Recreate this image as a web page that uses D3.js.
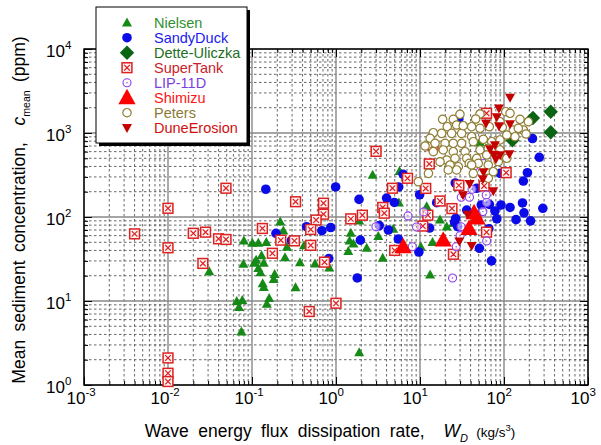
<!DOCTYPE html>
<html><head><meta charset="utf-8">
<script src="https://cdn.jsdelivr.net/npm/d3@7"></script>
<style>body{margin:0;background:#fff} svg{display:block;font-family:Arial,"Liberation Sans",sans-serif}</style>
</head><body><svg id="c" width="601" height="445"></svg>
<script>
// ---- data (W_D kg/s^3, c_mean ppm) ----
const nielsen = [[0.031,22.5],[0.079,27.6],[0.080,52],[0.101,49],[0.119,49],[0.148,50],[0.217,88],[0.236,68.5],[0.261,44],[0.247,33],[0.130,34.8],[0.112,30.8],[0.106,28.3],[0.138,28.3],[0.119,24.5],[0.126,21.8],[0.186,20.8],[0.181,18.1],[0.134,16.2],[0.138,14.6],[0.0658,9.9],[0.0767,10.2],[0.070,8.4],[0.16,10.8],[0.15,9.2],[0.0748,4.3],[2.73,316],[0.416,45.8],[0.372,28.7],[0.562,27.8],[0.832,24.9],[0.33,14.5],[1.5,64.5],[1.45,52],[1.4,39],[1.61,48],[1.89,90],[2.32,42.8],[3.19,59],[3.6,32.5],[4.8,72],[1.89,2.43],[5.7,350],[12,133],[17.3,93],[20.8,76.7],[14.1,50],[10.2,44.3],[13.2,20.6],[51.8,771],[5.6,148],[24.9,84]];
const sandyDuck = [[0.146,214],[0.193,64],[0.295,52.5],[0.99,228],[1.88,162],[0.706,111],[0.446,76.7],[0.68,68.7],[0.865,75],[1.95,53],[0.82,32],[1.79,18.8],[4.0,168],[4.94,149],[5.58,228],[4.2,70],[5.52,54.7],[3.28,79],[6.3,322],[9.9,184],[15.8,148],[26.3,254],[47.3,220],[26.6,96.5],[25.8,87],[28.1,76.7],[36,121],[47.3,106],[53.7,139],[67,141],[92,139],[118,130],[78,118],[82,95],[139,93],[166,147],[173,112],[207,90],[290,127],[218,860],[263,514],[190,337],[170,268],[66,72.6],[51,42.4],[71,30],[13,74],[9.7,38.3],[90,331],[29,1468]];
const detteUliczka = [[360,1794],[360,1019],[221,1510],[126,819]];
const superTank = [[0.049,220],[0.01,127],[0.004,63],[0.02,64],[0.028,66],[0.040,55],[0.049,54],[0.01,43],[0.026,28],[0.133,73],[0.22,53],[0.175,37],[0.01,2.1],[0.01,1.38],[0.01,1.1],[0.33,152],[0.71,146],[0.71,108],[0.58,92],[0.50,71],[0.32,52],[0.50,46],[0.73,29],[1.0,9.4],[0.48,7.5],[1.5,95],[2.06,105],[3.6,130],[3.76,111],[4.7,220],[5.0,40],[3.0,605],[12.9,428],[7.1,289],[11.7,219],[10.8,78],[12.4,105],[17.3,155],[24,126],[29,238],[58,234],[25,36],[62,66],[106,337],[62,1717],[14.3,706]];
const lip11d = [[2.99,76.7],[7.2,103],[9.1,76],[11.1,115],[8.1,44.3],[24.4,18.8],[27,44.3],[30,60],[30.8,76.7],[31,172],[38.8,172],[41.6,214],[56,535],[44.3,405],[61.4,183],[62.2,149],[56,116],[62.2,51.8]];
const shimizu = [[6.3,44.3],[18.9,53],[38.3,73],[44,112],[47.7,97]];
const peters = [[29.9,1670],[18.6,1456],[24.9,1456],[51.8,1683],[105,1794],[155,1456],[195,1364],[118,1717],[21.1,1189],[27.3,1245],[41.2,1189],[51.8,1137],[66.8,1189],[95.5,1169],[129,1086],[170,1086],[14.4,1008],[13.2,865],[11.5,700],[18.1,991],[23.8,991],[31.3,991],[41.2,904],[89.6,826],[135,904],[15.1,754],[19.9,754],[24.9,754],[31.3,754],[43.1,788],[56.7,841],[71.4,788],[51.8,628],[65,657],[14.4,599],[18.9,628],[24.9,599],[34.4,599],[20.8,477],[26.1,500],[36,500],[47.3,500],[62.2,547],[17.3,455],[22.8,416],[28.6,397],[38.6,436],[49.4,436],[65,416],[85.5,455],[12.6,331],[21.7,363],[27.3,363],[43.1,331],[9.55,263],[65,289],[46,1468],[89.6,1364],[148,1137],[108,947],[41.2,416],[74.6,346],[89.6,628],[108,500],[183,973],[32.7,1222]];
const duneErosion = [[118,2647],[87,1968],[82,1550],[61,1305],[87,1211],[118,1280],[68,645],[78,720],[76,555],[90,547],[116,562],[80,490],[57,343],[56,283],[39,249],[32.5,183],[74.6,204],[37,107],[29.4,51.4],[41.2,45.4]];

const seriesNames = ["Nielsen","SandyDuck","Dette-Uliczka","SuperTank","LIP-11D","Shimizu","Peters","DuneErosion"];
const xExponents = [-3,-2,-1,0,1,2,3];
const yExponents = [0,1,2,3,4];

// ---- setup ----
const svg = d3.select("#c");
const L=84,R=588,T=49,B=385;
const x = d3.scaleLog().domain([1e-3,1e3]).range([L,R]);
const y = d3.scaleLog().domain([1,1e4]).range([B,T]);
const xMajor = xExponents.map(e=>Math.pow(10,e));
const yMajor = yExponents.map(e=>Math.pow(10,e));
const minorOf = majors => { const o=[]; for(let i=0;i<majors.length-1;i++) for(let k=2;k<=9;k++) o.push(k*majors[i]); return o; };
const xMinor = minorOf(xMajor), yMinor = minorOf(yMajor);

// grid
const grid = svg.append("g");
grid.selectAll(".xm").data(xMinor).join("line").attr("x1",d=>x(d)).attr("x2",d=>x(d)).attr("y1",T).attr("y2",B)
  .attr("stroke","#555").attr("stroke-width",0.9).attr("stroke-dasharray","2.5,2.5");
grid.selectAll(".ym").data(yMinor).join("line").attr("y1",d=>y(d)).attr("y2",d=>y(d)).attr("x1",L).attr("x2",R)
  .attr("stroke","#555").attr("stroke-width",0.9).attr("stroke-dasharray","2.5,2.5");
grid.selectAll(".xM").data(xMajor).join("line").attr("x1",d=>x(d)).attr("x2",d=>x(d)).attr("y1",T).attr("y2",B)
  .attr("stroke","#888").attr("stroke-width",1.4);
grid.selectAll(".yM").data(yMajor).join("line").attr("y1",d=>y(d)).attr("y2",d=>y(d)).attr("x1",L).attr("x2",R)
  .attr("stroke","#888").attr("stroke-width",1.4);

// axes (inward ticks)
function axisG(gen, tr){ const g=svg.append("g").attr("transform",tr).call(gen); g.select(".domain").remove(); g.selectAll(".tick line").attr("stroke","#000").attr("stroke-width",1); return g; }
axisG(d3.axisBottom(x).tickValues(xMinor).tickSize(-4).tickFormat(()=>""), `translate(0,${B})`);
axisG(d3.axisTop(x).tickValues(xMinor).tickSize(-4).tickFormat(()=>""), `translate(0,${T})`);
axisG(d3.axisLeft(y).tickValues(yMinor).tickSize(-4).tickFormat(()=>""), `translate(${L},0)`);
axisG(d3.axisRight(y).tickValues(yMinor).tickSize(-4).tickFormat(()=>""), `translate(${R},0)`);
const gxb = axisG(d3.axisBottom(x).tickValues(xMajor).tickSize(-8).tickFormat(()=>""), `translate(0,${B})`);
axisG(d3.axisTop(x).tickValues(xMajor).tickSize(-8).tickFormat(()=>""), `translate(0,${T})`);
const gyl = axisG(d3.axisLeft(y).tickValues(yMajor).tickSize(-8).tickFormat(()=>""), `translate(${L},0)`);
axisG(d3.axisRight(y).tickValues(yMajor).tickSize(-8).tickFormat(()=>""), `translate(${R},0)`);

gxb.selectAll(".tick").each(function(d,i){
  const g=d3.select(this); g.selectAll("text").remove();
  g.append("text").attr("x",1).attr("y",19).attr("text-anchor","end").attr("font-size",17).attr("fill","#000").text("10");
  g.append("text").attr("x",1).attr("y",11).attr("text-anchor","start").attr("font-size",11.5).attr("fill","#000").text(String(xExponents[i]));
});
gyl.selectAll(".tick").each(function(d,i){
  const g=d3.select(this); g.selectAll("text").remove();
  g.append("text").attr("x",-19).attr("y",7).attr("text-anchor","end").attr("font-size",17).attr("fill","#000").text("10");
  g.append("text").attr("x",-19).attr("y",-1).attr("text-anchor","start").attr("font-size",11.5).attr("fill","#000").text(String(yExponents[i]));
});

// frame
svg.append("rect").attr("x",L).attr("y",T).attr("width",R-L).attr("height",B-T).attr("fill","none").attr("stroke","#000").attr("stroke-width",1.4);

// ---- markers ----
const shapes = {
  triUp: h => `M0,${-h*1.05}L${h},${h*0.75}L${-h},${h*0.75}Z`,
  triDown: h => `M0,${h*1.05}L${h},${-h*0.75}L${-h},${-h*0.75}Z`,
  diamond: h => `M0,${-h}L${h},0L0,${h}L${-h},0Z`
};
function drawSeries(g, data, kind){
  const sel = g.selectAll("g.pt").data(data).join("g").attr("class","pt").attr("transform",d=>`translate(${x(d[0])},${y(d[1])})`);
  addMarker(sel, kind);
}
function addMarker(sel, kind){
  switch(kind){
    case "Nielsen": sel.append("path").attr("d",shapes.triUp(5)).attr("fill","#168a16"); break;
    case "SandyDuck": sel.append("circle").attr("r",4.8).attr("fill","#0b0be8"); break;
    case "Dette-Uliczka": sel.append("path").attr("d",shapes.diamond(7.2)).attr("fill","#0a6414"); break;
    case "SuperTank":
      sel.append("rect").attr("x",-4.9).attr("y",-4.9).attr("width",9.8).attr("height",9.8).attr("fill","#fff4f4").attr("stroke","#dd2020").attr("stroke-width",1.5);
      sel.append("path").attr("d","M-2.8,-2.8L2.8,2.8M2.8,-2.8L-2.8,2.8").attr("stroke","#dd2020").attr("stroke-width",1.2); break;
    case "LIP-11D":
      sel.append("circle").attr("r",4).attr("fill","#fff").attr("fill-opacity",0.6).attr("stroke","#8c3cf0").attr("stroke-width",1.1);
      sel.append("circle").attr("r",0.7).attr("fill","#8c3cf0"); break;
    case "Shimizu": sel.append("path").attr("d",shapes.triUp(8.6)).attr("fill","#ff0000"); break;
    case "Peters": sel.append("circle").attr("r",4.2).attr("fill","#fff").attr("stroke","#8f7d30").attr("stroke-width",1.2); break;
    case "DuneErosion": sel.append("path").attr("d",shapes.triDown(5)).attr("fill","#c40000"); break;
  }
}
const allSeries = [nielsen,sandyDuck,detteUliczka,superTank,lip11d,shimizu,peters,duneErosion];
allSeries.forEach((s,i)=>drawSeries(svg.append("g"), s, seriesNames[i]));

// ---- legend ----
const leg = svg.append("g");
leg.append("rect").attr("x",99).attr("y",10).attr("width",151).attr("height",136).attr("fill","#000");
leg.append("rect").attr("x",96).attr("y",7).attr("width",151).attr("height",136).attr("fill","#fff").attr("stroke","#000").attr("stroke-width",1);
const textColors = ["#2f8f2f","#1a1aee","#1f6e1f","#c8242a","#7a3fe0","#ff1414","#8a7a35","#d01010"];
const li = leg.selectAll("g.li").data(seriesNames).join("g").attr("class","li").attr("transform",(d,i)=>`translate(0,${22.7+i*15})`);
li.each(function(name,i){
  const g=d3.select(this);
  const m=g.append("g").attr("transform","translate(127,0)");
  addMarker(m, name);
  g.append("text").attr("x",154).attr("y",5).attr("font-size",14.5).attr("fill",textColors[i]).text(name);
});

// ---- axis titles ----
const xt = svg.append("text").attr("x",330).attr("y",437).attr("text-anchor","middle").attr("font-size",17.5).attr("fill","#000").attr("word-spacing",4.5);
xt.append("tspan").text("Wave energy flux dissipation rate,\u00a0\u00a0");
xt.append("tspan").attr("font-style","italic").text("W");
xt.append("tspan").attr("font-style","italic").attr("font-size",11).attr("dy",5).text("D");
xt.append("tspan").attr("font-size",13.5).attr("dy",-5).text("\u00a0(kg/s");
xt.append("tspan").attr("font-size",9.5).attr("dy",-6).text("3");
xt.append("tspan").attr("font-size",13.5).attr("dy",6).text(")");

const yt = svg.append("text").attr("transform","translate(25,210) rotate(-90)").attr("text-anchor","middle").attr("font-size",17.5).attr("fill","#000").attr("word-spacing",3.5);
yt.append("tspan").text("Mean sediment concentration,\u00a0\u00a0");
yt.append("tspan").attr("font-style","italic").text("c");
yt.append("tspan").attr("font-size",10.5).attr("dy",5).text("mean");
yt.append("tspan").attr("dy",-5).text("\u00a0(ppm)");
</script></body></html>
